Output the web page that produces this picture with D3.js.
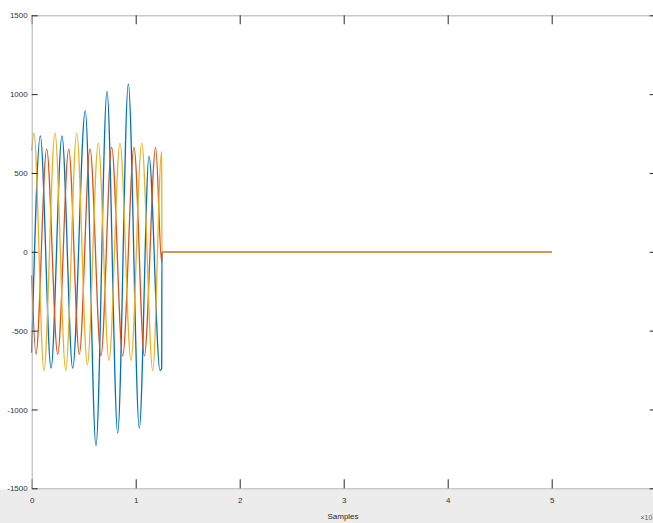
<!DOCTYPE html>
<html>
<head>
<meta charset="utf-8">
<script src="https://cdn.jsdelivr.net/npm/d3@7"></script>
<style>
  html, body { margin: 0; padding: 0; background: #fff; }
  svg { display: block; }
  text { font-family: "Liberation Sans", Arial, sans-serif; }
</style>
</head>
<body>
<div id="chart"></div>
<script>
// Waveform extrema (x in samples, y in amplitude)
var phaseAX = [0, 830, 1860, 2910, 3940, 5150, 6180, 7240, 8270, 9290, 10350, 11280, 12340, 12500, 12520, 50000];
var phaseAY = [-640, 735, -738, 735, -738, 896, -1230, 1017, -1150, 1065, -1118, 605, -753, -740, 0, 0];

var phaseBX = [0, 410, 1440, 2500, 3560, 4580, 5610, 6660, 7690, 8750, 9840, 10830, 11920, 12500, 12520, 50000];
var phaseBY = [-150, -649, 651, -649, 651, -649, 653, -660, 662, -660, 662, -660, 662, -70, 0, 0];

var phaseCX = [0, 220, 1180, 2240, 3270, 4330, 5350, 6400, 7430, 8490, 9550, 10580, 11640, 12500, 12520, 50000];
var phaseCY = [640, 753, -753, 753, -753, 753, -717, 689, -689, 689, -689, 689, -753, 636, 0, 0];

var xTicks = [0, 10000, 20000, 30000, 40000, 50000, 60000];
var yTicks = [-1500, -1000, -500, 0, 500, 1000, 1500];

var W = 653, H = 523;
var padL = 31.7, padR = 655.7, padT = 15.3, padB = 488.3;

var svg = d3.select('#chart').append('svg')
  .attr('width', W)
  .attr('height', H);

// faint watermark band below the axes
svg.append('rect')
  .attr('x', 0).attr('y', padB + 1)
  .attr('width', W).attr('height', H - padB)
  .attr('fill', '#ececec');

var x = d3.scaleLinear().domain([0, 60000]).range([padL, padR]);
var y = d3.scaleLinear().domain([-1500, 1500]).range([padB, padT]);

// series, drawn in MATLAB order so yellow ends on top
var series = [
  { xs: phaseAX, ys: phaseAY, color: '#0072BD' },
  { xs: phaseBX, ys: phaseBY, color: '#D95319' },
  { xs: phaseCX, ys: phaseCY, color: '#EDB120' }
];

var line = d3.line()
  .x(function (d) { return x(d[0]); })
  .y(function (d) { return y(d[1]); })
  .curve(d3.curveMonotoneX);

series.forEach(function (s) {
  var pts = s.xs.map(function (v, i) { return [v, s.ys[i]]; });
  svg.append('path')
    .attr('d', line(pts))
    .attr('fill', 'none')
    .attr('stroke', s.color)
    .attr('stroke-width', 1.3);
});

function styleAxis(g) {
  g.select('.domain').attr('stroke', '#b0b0b0');
  g.selectAll('.tick line').attr('stroke', '#262626');
  g.selectAll('.tick text')
    .attr('fill', '#333')
    .attr('font-size', '8px')
    .attr('font-family', '"Liberation Sans", Arial, sans-serif');
}

svg.append('g')
  .attr('transform', 'translate(0,' + padB + ')')
  .call(d3.axisBottom(x).tickValues(xTicks).tickSizeInner(-9).tickSizeOuter(0)
    .tickPadding(9).tickFormat(function (d) { return d / 10000; }))
  .call(styleAxis);

svg.append('g')
  .attr('transform', 'translate(0,' + padT + ')')
  .call(d3.axisTop(x).tickValues(xTicks).tickSizeInner(-9).tickSizeOuter(0).tickFormat(''))
  .call(styleAxis);

svg.append('g')
  .attr('transform', 'translate(' + padL + ',0)')
  .call(d3.axisLeft(y).tickValues(yTicks).tickSizeInner(-6).tickSizeOuter(0)
    .tickPadding(4).tickFormat(function (d) { return String(d); }))
  .call(styleAxis);

svg.append('g')
  .attr('transform', 'translate(' + padR + ',0)')
  .call(d3.axisRight(y).tickValues(yTicks).tickSizeInner(-6).tickSizeOuter(0).tickFormat(''))
  .call(styleAxis);

svg.append('text')
  .attr('x', 343)
  .attr('y', 519)
  .attr('text-anchor', 'middle')
  .attr('font-size', '8px')
  .attr('fill', '#262626')
  .text('Samples');

var exp = svg.append('text')
  .attr('x', 640.5)
  .attr('y', 520)
  .attr('font-size', '7px')
  .attr('fill', '#555');
exp.append('tspan').text('\u00d710');
exp.append('tspan').attr('dy', -4).attr('font-size', '5px').text('4');
</script>
</body>
</html>
